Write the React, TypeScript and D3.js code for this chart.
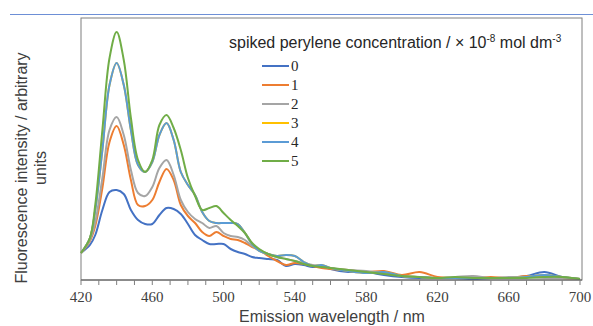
import * as d3 from 'd3'

// emission wavelength grid (nm)
const WAVELENGTHS = [420, 425, 428, 432, 436, 440, 444, 448, 452, 456, 460, 464, 468, 472, 476, 480, 484, 488, 492, 496, 500, 504, 508, 512, 516, 520, 525, 530, 535, 540, 545, 550, 555, 560, 570, 580, 590, 600, 610, 620, 630, 640, 650, 660, 670, 680, 690, 700]

// fluorescence intensity (arbitrary units)
const CONC_0 = [27, 35, 45, 70, 88, 90, 86, 70, 60, 56, 56, 65, 72, 71, 66, 56, 45, 40, 36, 36, 36, 31, 28, 26, 23, 22, 21, 20, 14, 16, 15, 13, 14, 11, 8, 8, 5, 3, 2, 2, 2, 1, 2, 2, 4, 8, 3, 1]
const CONC_1 = [27, 39, 54, 92, 138, 154, 135, 100, 75, 74, 80, 98, 111, 100, 75, 64, 57, 48, 44, 48, 44, 41, 40, 37, 33, 30, 24, 19, 15, 17, 16, 14, 12, 11, 10, 8, 9, 5, 8, 3, 2, 2, 3, 2, 4, 3, 2, 1]
const CONC_2 = [27, 40, 58, 102, 150, 163, 145, 110, 87, 84, 93, 112, 120, 105, 80, 68, 61, 57, 52, 54, 47, 44, 43, 40, 34, 30, 26, 23, 21, 19, 17, 15, 14, 12, 10, 9, 7, 4, 3, 2, 3, 4, 2, 3, 3, 2, 2, 1]
const CONC_3 = [27, 42, 70, 130, 195, 217, 195, 150, 115, 108, 118, 145, 157, 140, 108, 95, 85, 68, 59, 57, 57, 57, 56, 47, 36, 29, 26, 24, 25, 24, 18, 14, 15, 12, 9, 7, 8, 4, 3, 2, 2, 2, 2, 2, 3, 5, 3, 1]
const CONC_4 = [27, 42, 70, 130, 195, 217, 195, 150, 115, 108, 118, 145, 157, 140, 108, 95, 85, 68, 59, 57, 57, 57, 56, 47, 36, 29, 26, 24, 25, 24, 18, 14, 15, 12, 9, 7, 8, 4, 3, 2, 2, 2, 2, 2, 3, 5, 3, 1]
const CONC_5 = [27, 42, 75, 150, 222, 248, 220, 162, 120, 108, 120, 155, 165, 152, 130, 102, 84, 70, 72, 74, 67, 60, 54, 47, 37, 31, 26, 23, 21, 19, 16, 14, 13, 12, 10, 8, 6, 4, 3, 2, 3, 2, 2, 2, 2, 3, 3, 1]

const SERIES_LABELS = ['0', '1', '2', '3', '4', '5']
const SERIES_VALUES = [CONC_0, CONC_1, CONC_2, CONC_3, CONC_4, CONC_5]
const COLORS = ['#4472c4', '#ed7d31', '#a5a5a5', '#ffc000', '#5b9bd5', '#70ad47']
const X_TICKS = [420, 460, 500, 540, 580, 620, 660, 700]

const W = 593
const H = 326
const PLOT = { l: 81, r: 582, t: 18, b: 280 }
const SANS = '"Liberation Sans", Arial, sans-serif'
const SERIF = '"Liberation Serif", "DejaVu Serif", serif'

export default function App() {
  const x = d3.scaleLinear().domain([420, 700]).range([PLOT.l, 580])
  const y = d3.scaleLinear().domain([0, 262]).range([PLOT.b, PLOT.t])
  const line = d3.line<number>()
    .x((_, i) => x(WAVELENGTHS[i]))
    .y((v) => y(v))
    .curve(d3.curveCatmullRom.alpha(0.5))
  const minor = d3.range(420, 701, 10)

  return (
    <svg width={W} height={H} style={{ position: 'absolute', left: 0, top: 0, background: '#fff' }}>
      <line x1={10} x2={W} y1={14.5} y2={14.5} stroke="#6d8fd6" strokeWidth={1} />

      {/* plot frame */}
      <rect x={PLOT.l} y={PLOT.t} width={PLOT.r - PLOT.l} height={PLOT.b - PLOT.t} fill="none" stroke="#7f7f7f" strokeWidth={1} />

      {SERIES_VALUES.map((vals, i) => (
        <path key={i} d={line(vals) ?? ''} fill="none" stroke={COLORS[i]} strokeWidth={2} strokeLinejoin="round" />
      ))}

      {/* x axis */}
      <line x1={PLOT.l} x2={PLOT.r} y1={PLOT.b} y2={PLOT.b} stroke="#595959" strokeWidth={1} />
      {minor.map((t) => (
        <line key={t} x1={x(t)} x2={x(t)} y1={PLOT.b} y2={PLOT.b + 5} stroke="#7f7f7f" strokeWidth={1} />
      ))}
      {X_TICKS.map((t) => (
        <text key={t} x={x(t)} y={302} textAnchor="middle" fontFamily={SERIF} fontSize={15} fill="#404040">{t}</text>
      ))}
      <text x={332} y={322} textAnchor="middle" fontFamily={SANS} fontSize={16} fill="#404040">Emission wavelength / nm</text>

      {/* y axis title */}
      <g transform="translate(27,168) rotate(-90)" fontFamily={SANS} fontSize={16} fill="#404040">
        <text x={0} y={0} textAnchor="middle">Fluorescence intensity / arbitrary</text>
        <text x={0} y={19} textAnchor="middle">units</text>
      </g>

      {/* legend */}
      <text x={229} y={48} fontFamily={SANS} fontSize={16} fill="#262626">
        spiked perylene concentration / × 10
        <tspan dy={-6} fontSize={10}>-8</tspan>
        <tspan dy={6}> mol dm</tspan>
        <tspan dy={-6} fontSize={10}>-3</tspan>
      </text>
      {SERIES_LABELS.map((lab, i) => (
        <g key={lab} transform={`translate(0,${66 + i * 19})`}>
          <line x1={262} x2={289} y1={0} y2={0} stroke={COLORS[i]} strokeWidth={2} />
          <text x={291} y={5} fontFamily={SERIF} fontSize={15} fill="#262626">{lab}</text>
        </g>
      ))}
    </svg>
  )
}
